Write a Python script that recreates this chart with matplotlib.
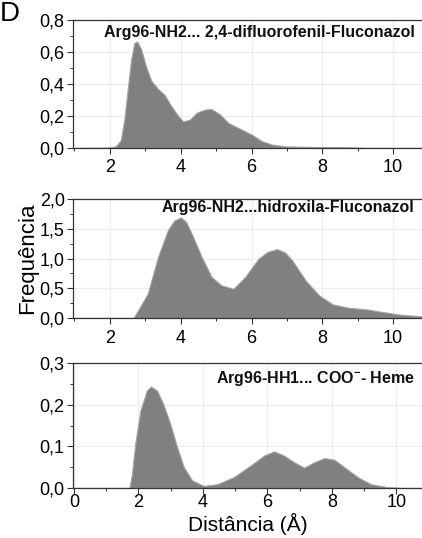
import numpy as np
import matplotlib
matplotlib.use("Agg")
import matplotlib.pyplot as plt
from matplotlib.ticker import MultipleLocator, FuncFormatter

plt.rcParams['font.family'] = ['Liberation Sans', 'DejaVu Sans']
plt.rcParams['mathtext.fontset'] = 'custom'
plt.rcParams['mathtext.rm'] = 'Liberation Sans'
plt.rcParams['mathtext.bf'] = 'Liberation Sans:bold'

# panel 1: Arg96-NH2 ... 2,4-difluorofenil-Fluconazol
dist1 = [1.0, 1.93, 2.17, 2.31, 2.41, 2.5, 2.6, 2.69, 2.77, 2.88, 3.02, 3.17, 3.36,
         3.55, 3.74, 3.93, 4.07, 4.26, 4.45, 4.69, 4.87, 5.11, 5.35, 5.63, 6.01,
         6.3, 6.58, 6.96, 7.8, 8.76, 9.24, 10.9]
freq1 = [0.0, 0.002, 0.01, 0.05, 0.18, 0.36, 0.55, 0.655, 0.665, 0.62, 0.51, 0.42,
         0.37, 0.33, 0.26, 0.20, 0.166, 0.177, 0.22, 0.24, 0.243, 0.21, 0.156,
         0.125, 0.083, 0.042, 0.021, 0.01, 0.006, 0.004, 0.0, 0.0]

# panel 2: Arg96-NH2 ... hidroxila-Fluconazol
dist2 = [1.0, 2.67, 3.07, 3.36, 3.64, 3.82, 4.0, 4.15, 4.31, 4.59, 4.87, 5.15, 5.49,
         5.82, 6.2, 6.45, 6.72, 6.95, 7.15, 7.53, 7.91, 8.29, 8.76, 9.24, 9.71,
         10.19, 10.9]
freq2 = [0.0, 0.0, 0.41, 1.03, 1.48, 1.64, 1.69, 1.62, 1.42, 1.03, 0.69, 0.55, 0.49,
         0.69, 1.0, 1.11, 1.16, 1.10, 0.97, 0.63, 0.38, 0.23, 0.17, 0.146, 0.10,
         0.056, 0.025]

# panel 3: Arg96-HH1 ... COO- Heme
dist3 = [0.0, 1.72, 1.8, 1.9, 2.06, 2.26, 2.39, 2.58, 2.78, 2.99, 3.2, 3.41, 3.67,
         4.03, 4.44, 4.96, 5.48, 5.9, 6.21, 6.52, 6.83, 7.14, 7.46, 7.77, 8.08,
         8.39, 8.81, 9.22, 9.74, 10.16, 10.9]
freq3 = [0.0, 0.0, 0.034, 0.106, 0.186, 0.234, 0.244, 0.234, 0.2, 0.154, 0.098,
         0.05, 0.018, 0.005, 0.009, 0.026, 0.054, 0.078, 0.088, 0.078, 0.062,
         0.049, 0.062, 0.072, 0.068, 0.05, 0.026, 0.009, 0.002, 0.0, 0.0]

titles = ["Arg96-NH2... 2,4-difluorofenil-Fluconazol",
          "Arg96-NH2...hidroxila-Fluconazol",
          r"Arg96-HH1... COO$^{\mathbf{-}}$- Heme"]


def comma(v, pos):
    s = f"{v:.1f}" if abs(v) < 5 else f"{v:g}"
    return s.replace(".", ",")


def style_axis(ax, xlim, ylim, ymaj, xpad):
    ax.set_xlim(*xlim)
    ax.set_ylim(*ylim)
    ax.xaxis.set_major_locator(MultipleLocator(2))
    ax.xaxis.set_minor_locator(MultipleLocator(1))
    ax.yaxis.set_major_locator(MultipleLocator(ymaj))
    ax.yaxis.set_minor_locator(MultipleLocator(ymaj / 2))
    ax.yaxis.set_major_formatter(FuncFormatter(comma))
    ax.xaxis.set_major_formatter(FuncFormatter(lambda v, p: f"{v:g}"))
    ax.grid(True, which="major", color="#ececec", lw=0.8)
    ax.set_axisbelow(True)
    ax.spines["right"].set_visible(False)
    for s in ["left", "bottom", "top"]:
        ax.spines[s].set_color("#333333")
        ax.spines[s].set_linewidth(0.9)
    ax.tick_params(axis="both", which="major", length=4, width=0.8, color="#333333")
    ax.tick_params(axis="both", which="minor", length=2.5, width=0.7, color="#333333")
    ax.tick_params(axis="y", labelsize=13, pad=2)
    ax.tick_params(axis="x", labelsize=13, pad=xpad)


fig = plt.figure(figsize=(4.22, 5.38), dpi=100)
ax1 = fig.add_axes([0.173, 0.725, 0.83, 0.238])
ax2 = fig.add_axes([0.173, 0.409, 0.83, 0.221])
ax3 = fig.add_axes([0.173, 0.093, 0.83, 0.232])

panels = [(ax1, dist1, freq1, (0.96, 10.85), (0, 0.8), 0.2, 4, 0.90),
          (ax2, dist2, freq2, (0.96, 10.85), (0, 2.0), 0.5, 4.5, 0.925),
          (ax3, dist3, freq3, (-0.03, 10.84), (0, 0.3), 0.1, 0.5, 0.88)]

for (ax, x, y, xl, yl, ym, xpad, ty), title in zip(panels, titles):
    ax.fill_between(x, y, 0, facecolor="#808080", edgecolor="#a6a6a6", lw=0.8)
    style_axis(ax, xl, yl, ym, xpad)
    ax.text(0.975, ty, title, transform=ax.transAxes, ha="right", va="center",
            fontsize=11.5, fontweight="bold", color="#111111")

ax2.set_ylabel("Frequência", fontsize=16, labelpad=1)
ax3.set_xlabel("Distância (Å)", fontsize=15, labelpad=1)
fig.text(0.0, 0.998, "D", fontsize=20, ha="left", va="top")

fig.savefig("out.png", dpi=100)
